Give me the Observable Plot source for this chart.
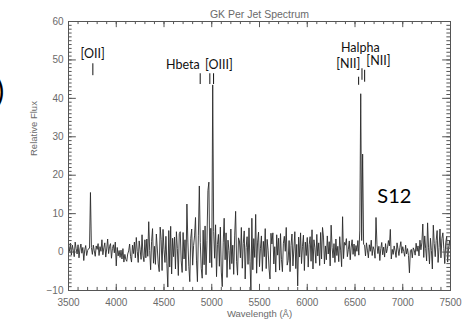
<!DOCTYPE html>
<html>
<head>
<meta charset="utf-8">
<script src="https://cdn.jsdelivr.net/npm/d3@7"></script>
<script src="https://cdn.jsdelivr.net/npm/@observablehq/plot@0.6"></script>
<style>
  body { margin: 0; background: #fff; }
  #chart svg { display: block; }
</style>
</head>
<body>
<div id="chart"></div>
<script>
// Spectrum: flux sampled every 10 Å from 3500 Å
const wavelengthStart = 3500;
const wavelengthStep = 10;
const flux = [
  1.5, 0.2, 2.3, -0.8, 1.8, 0.5, -1.2, 2.6, 0.9, -0.5,
  1.9, -1.5, 0.8, 2.1, -0.3, 1.2, -2.2, 0.6, 1.7, -0.9,
  0.4, 0.9, 1.0, 15.5, 1.2, -0.6, 1.8, 0.3, -1.1, 1.6,
  0.7, 2.2, -0.9, 1.4, 0.2, 3.2, -0.7, 1.1, 2.4, -1.3,
  0.8, 3.4, -0.4, 1.5, 2.2, -1.6, 0.9, 1.9, -0.2, 2.6,
  -3.6, 1.2, -1.0, 0.4, -1.4, 0.5, -1.8, 0.9, -2.6, -0.6,
  -1.9, -2.4, -0.5, 0.3, 2.1, -1.2, -2.6, 1.8, -0.4, 2.6,
  -1.5, 3.8, 0.2, -2.7, 2.9, 0.6, -1.9, 4.5, -0.8, -2.5,
  3.2, -1.5, 3.4, -1.1, 7.9, 0.4, -4.6, 2.8, 6.1, -2.9,
  1.5, -3.2, 4.7, 0.8, -3.1, -5.1, 6.5, 3.3, -4.8, 5.9,
  0.6, -2.7, 4.1, -3.0, -9.1, 5.6, -3.9, 6.7, -5.7, 3.6,
  -1.2, 3.9, -4.4, 5.3, 0.9, -6.1, 4.8, 5.3, -2.3, -5.3,
  5.1, -1.8, 3.2, -4.9, 12.5, 2.6, -3.8, -7.7, 3.6, 6.0,
  -3.4, 1.7, 4.2, 9.0, -2.1, -7.7, 4.4, 17.2, 2.5, -4.2,
  -6.8, 5.7, -3.3, 6.8, -5.9, 3.0, 16.0, 18.2, -2.8, 6.2,
  -4.0, 43.5, 5.3, -1.6, 7.1, -6.4, 2.0, 4.6, -3.7, 6.5,
  -5.2, -9.0, 2.4, 8.8, -2.0, 5.0, -6.6, 3.1, 0.4, -4.5,
  6.0, -3.0, 1.8, -5.8, 4.2, 10.6, -2.4, -6.0, 3.7, 2.9,
  -1.5, 6.4, -4.2, 2.2, 5.5, -7.0, 1.2, 4.0, -3.2, 6.3,
  -2.5, -10.2, 8.8, -4.6, 3.5, -1.4, 9.8, -5.5, 2.6, 5.2,
  -3.8, 1.0, 4.2, -5.0, 2.8, -1.2, 6.1, -4.3, 3.3, 0.5,
  -4.4, -7.0, 4.9, 2.1, 5.0, -3.1, 1.4, -5.2, 4.5, -0.8,
  3.6, -4.7, 4.8, -1.9, -5.1, 2.3, 4.1, 0.2, 6.4, -3.4,
  -2.2, 3.0, -5.1, 1.7, 4.7, -3.6, 0.8, 5.3, -4.3, 2.0,
  -8.8, 3.9, -1.3, 5.0, -3.0, 1.5, 4.4, -4.8, 2.6, -0.9,
  3.8, -3.9, 1.9, 4.0, -2.4, 5.8, -4.4, 3.2, 1.1, -2.9,
  4.6, -1.0, 2.4, -3.5, 5.1, -1.8, 6.4, 3.9, -3.1, 1.6,
  -2.0, 4.2, -0.5, 2.7, -3.6, 7.0, 1.2, -1.5, 2.2, -2.7,
  3.4, -0.9, 1.5, -2.5, 4.0, 0.3, -3.8, 9.2, -1.7, 2.5,
  1.8, 3.5, -1.2, 0.6, 2.9, -2.0, 1.3, 3.2, -0.6, 2.1,
  -1.1, 1.7, 0.2, 3.0, -0.8, 5.5, 41.2, 3.0, 25.5, 2.0,
  1.8, -1.0, 2.4, 0.5, -1.5, 1.9, 0.2, 3.1, -0.9, 1.4,
  0.6, -1.6, 9.0, 2.0, -0.4, 1.5, -2.2, 0.9, 2.5, -0.7,
  1.3, -1.3, 2.2, -0.2, 1.0, 3.0, 1.6, 5.9, -1.8, 0.7,
  -0.6, 1.6, 0.3, -1.4, 2.4, 0.8, -0.9, 1.2, 2.7, -0.3,
  1.4, 0.2, -1.1, 1.8, -0.5, 0.9, -0.9, -5.4, 0.4, 0.7,
  -1.5, 1.1, 0.5, -0.8, 2.3, 0.2, 1.6, -1.0, 3.1, 0.6,
  2.4, 7.3, -1.4, 4.2, 0.9, -2.3, 7.6, 1.1, -3.1, 3.6,
  0.4, -4.4, 7.0, 2.2, -1.2, 3.0, 5.6, -2.7, 1.2, 6.0,
  -1.5, 3.5, 5.0, 0.9, -3.0, 2.4, 4.1, -2.6, 1.0, 3.0,
  0.5
];

// Axis ticks
const xTickLabels = [3500, 4000, 4500, 5000, 5500, 6000, 6500, 7000, 7500];
const xMinorTicks = d3.range(3500, 7501, 100);
const yTickLabels = [-10, 0, 10, 20, 30, 40, 50, 60];
const yMinorTicks = d3.range(-10, 61, 1);

// Line identifications
const lineLabels = ["[OII]", "Hbeta", "[OIII]", "Halpha", "[NII]", "[NII]"];
const lineLabelX = [3752, 4697, 5075, 6555, 6430, 6745];
const lineLabelY = [51.5, 48.6, 48.6, 53.2, 48.9, 49.6];
const markerX  = [3755, 4879, 4980, 5019, 6538, 6573, 6601];
const markerY1 = [45.9, 43.6, 43.6, 43.6, 43.4, 44.7, 44.2];
const markerY2 = [49.0, 46.4, 46.4, 46.4, 45.5, 47.7, 47.3];

const title = "GK Per Jet Spectrum";
const xLabel = "Wavelength (Å)";
const yLabel = "Relative Flux";
const panelTag = "S12";

const spectrum = flux.map((f, i) => ({w: wavelengthStart + i * wavelengthStep, f}));
const markers = markerX.map((x, i) => ({x, y1: markerY1[i], y2: markerY2[i]}));
const labels = lineLabels.map((t, i) => ({t, x: lineLabelX[i], y: lineLabelY[i]}));

const axisColor = "#6a6a6a";
const font = "Liberation Sans, Arial, sans-serif";
const annFont = "Lato, 'Open Sans', sans-serif";

const chart = Plot.plot({
  width: 466,
  height: 323,
  marginLeft: 68,
  marginRight: 16,
  marginTop: 21,
  marginBottom: 33,
  style: {fontFamily: font, background: "#fff"},
  x: {domain: [3500, 7500]},
  y: {domain: [-10, 60]},
  marks: [
    Plot.line(spectrum, {x: "w", y: "f", stroke: "#2a2a2a", strokeWidth: 0.9, clip: true}),
    Plot.frame({stroke: "#555", strokeWidth: 1}),
    // bottom and top ticks (inward)
    Plot.ruleX(xMinorTicks, {x: d => d, y1: -10, y2: -9.2, stroke: "#555"}),
    Plot.ruleX(xTickLabels, {x: d => d, y1: -10, y2: -8.4, stroke: "#555"}),
    Plot.ruleX(xMinorTicks, {x: d => d, y1: 60, y2: 59.2, stroke: "#555"}),
    Plot.ruleX(xTickLabels, {x: d => d, y1: 60, y2: 58.4, stroke: "#555"}),
    // left and right ticks (inward)
    Plot.ruleY(yMinorTicks, {y: d => d, x1: 3500, x2: 3538, stroke: "#555"}),
    Plot.ruleY(yTickLabels, {y: d => d, x1: 3500, x2: 3582, stroke: "#555"}),
    Plot.ruleY(yMinorTicks, {y: d => d, x1: 7462, x2: 7500, stroke: "#555"}),
    Plot.ruleY(yTickLabels, {y: d => d, x1: 7418, x2: 7500, stroke: "#555"}),
    Plot.axisX({ticks: xTickLabels, tickSize: 0, tickPadding: 8, fontSize: 10, fill: axisColor, label: null, tickFormat: d => String(d)}),
    Plot.axisY({ticks: yTickLabels, tickSize: 0, tickPadding: 5, fontSize: 10, fill: axisColor, label: null}),
    Plot.text([title], {text: d => d, frameAnchor: "top", dy: -11, fontSize: 10.5, fill: axisColor}),
    Plot.text([xLabel], {text: d => d, frameAnchor: "bottom", dy: 26, fontSize: 9.5, fill: axisColor}),
    Plot.text([yLabel], {text: d => d, frameAnchor: "left", dx: -35, rotate: -90, fontSize: 9.5, fill: axisColor}),
    // line identifications
    Plot.ruleX(markers, {x: "x", y1: "y1", y2: "y2", stroke: "#111", strokeWidth: 1}),
    Plot.text(labels, {x: "x", y: "y", text: "t", fontSize: 12.5, fill: "#111", fontFamily: annFont}),
    Plot.text([panelTag], {text: d => d, x: 6912, y: 14.5, fontSize: 20, fill: "#000", fontFamily: annFont}),
    Plot.text([")"], {text: d => d, x: 2785, y: 41.5, fontSize: 30, fill: "#000", fontFamily: annFont})
  ]
});
document.getElementById("chart").appendChild(chart);
</script>
</body>
</html>
